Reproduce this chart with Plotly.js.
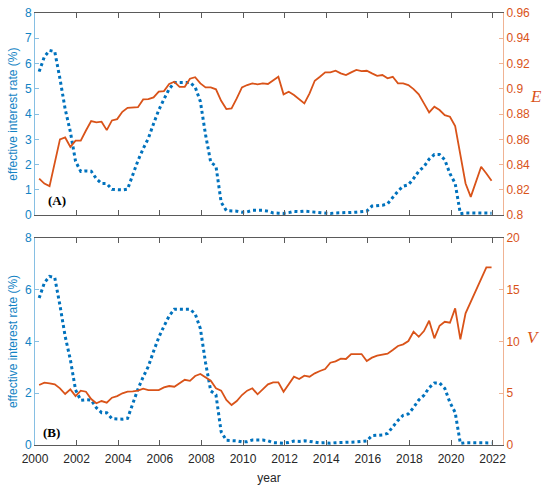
<!DOCTYPE html>
<html>
<head>
<meta charset="utf-8">
<script src="https://cdn.plot.ly/plotly-3.0.1.min.js"></script>
<style>html,body{margin:0;padding:0;background:#fff;}#chart{width:550px;height:490px;}</style>
</head>
<body>
<div id="chart"></div>
<script>
// Quarterly time stamps, 2000Q1 .. 2021Q4
const startYear = 2000.2;
const nQuarters = 88;
const quarters = [];
for (let i = 0; i < nQuarters; i++) quarters.push(+(startYear + i * 0.25).toFixed(2));

// Effective interest rate (%), quarterly
const rate = [
  5.68, 6.27, 6.52, 6.47,
  5.40, 4.20, 3.30, 2.13,
  1.73, 1.75, 1.74, 1.44,
  1.25, 1.25, 1.02, 1.00,
  1.00, 1.03, 1.61, 2.16,
  2.63, 3.04, 3.62, 4.16,
  4.59, 4.99, 5.25, 5.25,
  5.26, 5.25, 5.07, 4.50,
  3.18, 2.09, 1.94, 0.51,
  0.18, 0.18, 0.16, 0.12,
  0.13, 0.19, 0.19, 0.19,
  0.16, 0.09, 0.08, 0.07,
  0.10, 0.15, 0.14, 0.16,
  0.14, 0.12, 0.08, 0.09,
  0.07, 0.09, 0.09, 0.10,
  0.11, 0.12, 0.13, 0.16,
  0.36, 0.37, 0.39, 0.45,
  0.70, 0.95, 1.15, 1.20,
  1.45, 1.74, 1.92, 2.22,
  2.40, 2.40, 2.19, 1.64,
  1.26, 0.06, 0.09, 0.09,
  0.08, 0.07, 0.09, 0.08
];

// E series (panel A), quarterly
const seriesE = [
  0.829, 0.825, 0.823, 0.841,
  0.860, 0.8615, 0.854, 0.859,
  0.859, 0.867, 0.8745, 0.8734,
  0.874, 0.8673, 0.875, 0.876,
  0.8818, 0.885, 0.885, 0.8855,
  0.8916, 0.8918, 0.8932, 0.8977,
  0.8982, 0.9038, 0.9056, 0.9016,
  0.9016, 0.908, 0.9092, 0.9043,
  0.9011, 0.9011, 0.8996, 0.8905,
  0.884, 0.8845, 0.8924, 0.9011,
  0.903, 0.9043, 0.9035, 0.9043,
  0.9038, 0.9064, 0.9095, 0.8956,
  0.8977, 0.8951, 0.8919, 0.8885,
  0.8964, 0.9064, 0.9095, 0.913,
  0.913, 0.9143, 0.9122, 0.9109,
  0.913, 0.9149, 0.914, 0.9143,
  0.9122, 0.9103, 0.9109, 0.9083,
  0.9095, 0.9043, 0.9043, 0.903,
  0.8998, 0.8956, 0.8885, 0.8813,
  0.8858, 0.8832, 0.8792, 0.8779,
  0.8705, 0.8462, 0.8251, 0.8145,
  0.8264, 0.8383, 0.833, 0.8272
];

// V series (panel B), quarterly
const seriesV = [
  5.80, 6.02, 5.96, 5.86,
  5.48, 4.93, 5.38, 4.73,
  5.25, 5.15, 4.44, 4.03,
  4.25, 4.09, 4.57, 4.73,
  5.00, 5.15, 5.19, 5.25,
  5.44, 5.31, 5.31, 5.31,
  5.57, 5.70, 5.63, 5.95,
  6.30, 6.20, 6.67, 6.86,
  6.50, 6.21, 5.48, 5.25,
  4.35, 3.86, 4.25, 4.83,
  5.25, 5.48, 4.90, 5.41,
  5.86, 6.06, 6.06, 5.15,
  5.86, 6.60, 6.38, 6.70,
  6.60, 6.93, 7.15, 7.34,
  7.95, 8.08, 8.35, 8.31,
  8.79, 8.76, 8.79, 8.12,
  8.44, 8.63, 8.76, 8.82,
  9.18, 9.57, 9.73, 10.05,
  10.95, 10.46, 11.01, 12.01,
  10.31, 11.53, 11.91, 11.82,
  13.20, 10.21, 12.72, 13.85,
  14.95, 16.05, 17.17, 17.17
];

const blue = '#0072BD';
const orange = '#D95319';
const blueText = '#1283c4';
const blueLine = '#86bfe3';
const orangeLine = '#f0b394';
const frame = '#5a5a5a';
const sans = 'Liberation Sans, Arial, Helvetica, sans-serif';
const serif = 'Liberation Serif, Times New Roman, serif';

const traces = [
  {x: quarters, y: rate, xaxis: 'x', yaxis: 'y', mode: 'lines',
   line: {color: blue, width: 3, dash: 'dot'}, hoverinfo: 'skip'},
  {x: quarters, y: seriesE, xaxis: 'x', yaxis: 'y2', mode: 'lines',
   line: {color: orange, width: 1.8}, hoverinfo: 'skip'},
  {x: quarters, y: rate, xaxis: 'x2', yaxis: 'y3', mode: 'lines',
   line: {color: blue, width: 3, dash: 'dot'}, hoverinfo: 'skip'},
  {x: quarters, y: seriesV, xaxis: 'x2', yaxis: 'y4', mode: 'lines',
   line: {color: orange, width: 1.8}, hoverinfo: 'skip'}
];

const xBase = {
  range: [2000, 2022.5], tick0: 2000, dtick: 2,
  ticks: 'inside', ticklen: 5, tickwidth: 1, tickcolor: frame,
  showline: true, linecolor: frame, linewidth: 1, mirror: 'ticks',
  showgrid: false, zeroline: false,
  tickfont: {family: sans, size: 12, color: '#262626'}
};
const yLeft = {
  ticks: 'inside', ticklen: 4, tickcolor: blueLine,
  showline: true, linecolor: blueLine, linewidth: 1,
  showgrid: false, zeroline: false,
  tickfont: {family: sans, size: 12, color: blueText}
};
const yRight = {
  side: 'right', ticks: 'inside', ticklen: 4, tickcolor: orangeLine,
  showline: true, linecolor: orangeLine, linewidth: 1,
  showgrid: false, zeroline: false,
  tickfont: {family: sans, size: 12, color: orange}
};

const layout = {
  width: 550, height: 490,
  margin: {l: 35, r: 47, t: 13, b: 45},
  paper_bgcolor: '#fff', plot_bgcolor: '#fff',
  showlegend: false,
  xaxis: Object.assign({}, xBase, {domain: [0, 1], anchor: 'y', showticklabels: false}),
  xaxis2: Object.assign({}, xBase, {domain: [0, 1], anchor: 'y3', showticklabels: true,
    ticklabelstandoff: 3,
    title: {text: 'year', font: {family: sans, size: 12, color: '#262626'}, standoff: 8}}),
  yaxis: Object.assign({}, yLeft, {domain: [0.532, 1], anchor: 'x', range: [0, 8], dtick: 1,
    title: {text: 'effective interest rate (%)', font: {family: sans, size: 12, color: blueText}, standoff: 4}}),
  yaxis2: Object.assign({}, yRight, {overlaying: 'y', anchor: 'x', range: [0.8, 0.96], dtick: 0.02}),
  yaxis3: Object.assign({}, yLeft, {domain: [0, 0.479], anchor: 'x2', range: [0, 8], dtick: 2,
    title: {text: 'effective interest rate (%)', font: {family: sans, size: 12, color: blueText}, standoff: 4}}),
  yaxis4: Object.assign({}, yRight, {overlaying: 'y3', anchor: 'x2', range: [0, 20], dtick: 5}),
  annotations: [
    {text: '<b>(A)</b>', xref: 'paper', yref: 'paper', x: 0.047, y: 0.565, showarrow: false,
     xanchor: 'center', yanchor: 'middle', font: {family: serif, size: 13, color: '#000'}},
    {text: '<b>(B)</b>', xref: 'paper', yref: 'paper', x: 0.036, y: 0.028, showarrow: false,
     xanchor: 'center', yanchor: 'middle', font: {family: serif, size: 13, color: '#000'}},
    {text: '<i>E</i>', xref: 'paper', yref: 'paper', x: 1.07, y: 0.806, showarrow: false,
     xanchor: 'center', yanchor: 'middle', font: {family: serif, size: 17, color: orange}},
    {text: '<i>V</i>', xref: 'paper', yref: 'paper', x: 1.066, y: 0.248, showarrow: false,
     xanchor: 'center', yanchor: 'middle', font: {family: serif, size: 17, color: orange}}
  ]
};

Plotly.newPlot('chart', traces, layout, {staticPlot: true, displayModeBar: false});
</script>
</body>
</html>
